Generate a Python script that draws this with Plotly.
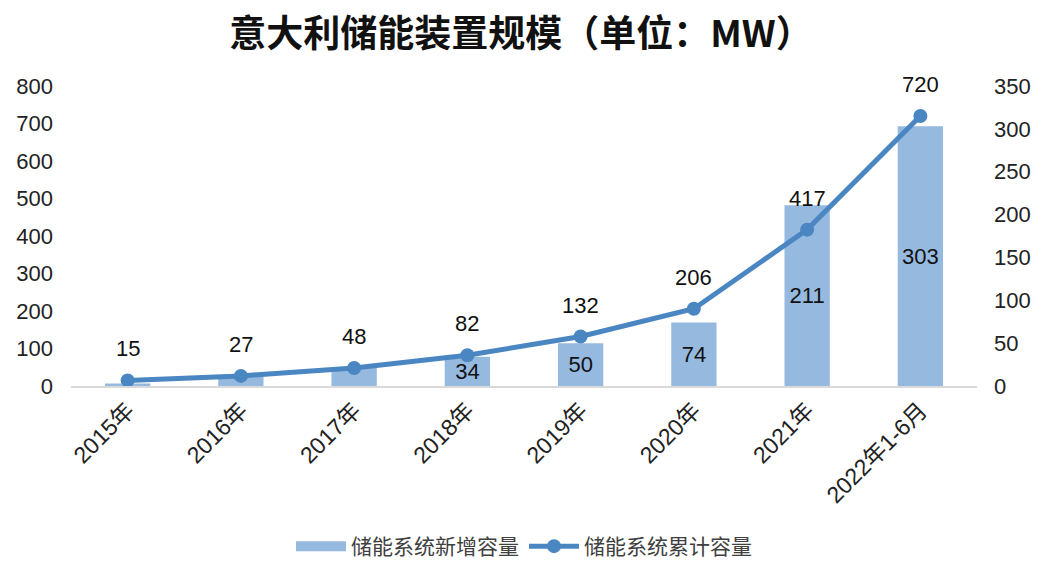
import plotly.graph_objects as go

categories = ["2015年", "2016年", "2017年", "2018年", "2019年", "2020年", "2021年", "2022年1-6月"]
new_capacity = [3, 12, 21, 34, 50, 74, 211, 303]
bar_labels = ["", "", "", "34", "50", "74", "211", "303"]
cumulative = [15, 27, 48, 82, 132, 206, 417, 720]

left_ticks = list(range(0, 801, 100))
right_ticks = list(range(0, 351, 50))

FONT = "Liberation Sans, Arial, Noto Sans CJK SC, sans-serif"
CJK = "Noto Sans CJK SC, sans-serif"
BAR_COLOR = "#96B9E0"
LINE_COLOR = "#4A86C1"
BAR_NAME = "储能系统新增容量"
LINE_NAME = "储能系统累计容量"

fig = go.Figure()

fig.add_trace(go.Bar(
    x=categories, y=new_capacity, name=BAR_NAME, showlegend=False,
    marker=dict(color=BAR_COLOR, line=dict(width=0)),
    text=bar_labels, textposition="inside", insidetextanchor="middle",
    constraintext="none", textangle=0,
    textfont=dict(family=FONT, size=22, color="#111111"),
    yaxis="y", hoverinfo="x+y",
))

# legend proxy: wide flat swatch for the bar series
fig.add_trace(go.Scatter(
    x=[None], y=[None], name=BAR_NAME, mode="lines",
    line=dict(color=BAR_COLOR, width=12), yaxis="y", hoverinfo="skip",
))

fig.add_trace(go.Scatter(
    x=categories, y=cumulative, name=LINE_NAME,
    mode="lines+markers",
    line=dict(color=LINE_COLOR, width=5),
    marker=dict(color=LINE_COLOR, size=14),
    yaxis="y2",
))

for c, v in zip(categories, cumulative):
    fig.add_annotation(
        x=c, y=v, xref="x", yref="y2", text=str(v), showarrow=False,
        yanchor="bottom", yshift=17,
        font=dict(family=FONT, size=22, color="#111111"),
    )

fig.update_layout(
    width=1042, height=566,
    margin=dict(l=71, r=65, t=86, b=180, autoexpand=False),
    paper_bgcolor="white", plot_bgcolor="white",
    title=dict(text="<b>意大利储能装置规模（单位：MW）</b>", x=0.5, xanchor="center",
               y=0.94, yanchor="middle",
               font=dict(family=CJK, size=37, color="#111111")),
    bargap=0.6,
    showlegend=True,
    legend=dict(orientation="h", x=0.5, xanchor="center", y=-0.535, yanchor="middle",
                font=dict(family=CJK, size=21, color="#404040"),
                itemwidth=50, traceorder="normal"),
    xaxis=dict(
        type="category", tickangle=-45, automargin=False,
        tickfont=dict(family=FONT, size=23, color="#222222"),
        showline=True, linecolor="#D9D9D9", linewidth=2,
        showgrid=False, ticks="",
    ),
    yaxis=dict(
        side="right", range=[0, 350], tickvals=right_ticks, automargin=False,
        tickfont=dict(family=FONT, size=22, color="#222222"),
        showgrid=False, zeroline=False, showline=False, ticks="",
        ticklabelstandoff=16,
    ),
    yaxis2=dict(
        overlaying="y", side="left", range=[0, 800], tickvals=left_ticks, automargin=False,
        tickfont=dict(family=FONT, size=22, color="#222222"),
        showgrid=False, zeroline=False, showline=False, ticks="",
        ticklabelstandoff=17,
    ),
)

fig.write_html("out.html", config={"displayModeBar": False},
               post_script="document.body.style.margin='0px';document.body.style.overflow='hidden';")
